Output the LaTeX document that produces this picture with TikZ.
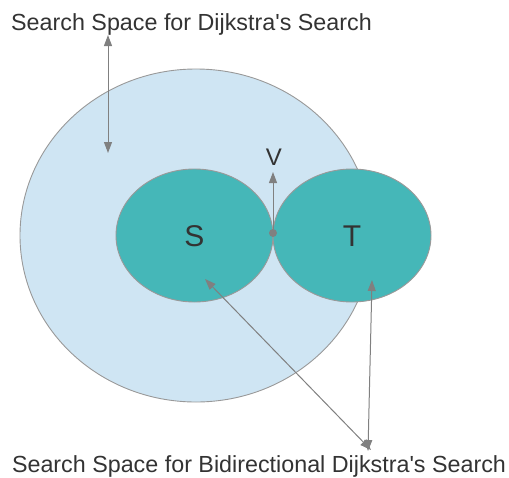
\documentclass[tikz,border=0pt]{standalone}
\usepackage{fontspec}
\setmainfont{Liberation Sans}[Ligatures=TeXOff]
\usetikzlibrary{shapes.geometric,arrows.meta}
\definecolor{lightfill}{HTML}{CFE5F3}
\definecolor{tealfill}{HTML}{45B7B8}
\definecolor{edgegray}{HTML}{999999}
\definecolor{arrgray}{HTML}{808080}
\definecolor{txt}{HTML}{333333}
\begin{document}
\begin{tikzpicture}[x=1pt,y=-1pt,
  region/.style={ellipse,draw=edgegray,line width=0.9pt,inner sep=0pt},
  lbl/.style={text=txt,inner sep=0pt,font=\fontsize{23.3}{23.3}\selectfont},
  big/.style={text=txt,inner sep=0pt,font=\fontsize{30}{30}\selectfont},
  conn/.style={draw=arrgray,line width=1pt,{Triangle[length=11pt,width=8pt]}-{Triangle[length=11pt,width=8pt]}},
  single/.style={draw=arrgray,line width=1pt,-{Triangle[length=11pt,width=8pt]}}]
\useasboundingbox (0,0) rectangle (509,477);
\node[region,fill=lightfill,minimum width=352pt,minimum height=333pt] (D) at (196,235.5) {};
\node[region,fill=tealfill,minimum width=157pt,minimum height=133pt] (S) at (194.5,235.5) {};
\node[region,fill=tealfill,minimum width=158pt,minimum height=133pt] (T) at (352,235.5) {};
\node[big] (Sl) at (194.5,236) {S};
\node[big] (Tl) at (352,236) {T};
\node[lbl,font=\fontsize{24}{24}\selectfont] (V) at (274,157) {V};
\node[circle,fill=arrgray,inner sep=0pt,minimum size=8pt] (m) at (273,233) {};
\coordinate (vt) at (273,172);
\draw[single] (m) -- (vt);
\node[lbl,anchor=base west] (top) at (11,30) {Search Space for Dijkstra's Search};
\node[lbl,anchor=base] (bot) at (259,472) {Search Space for Bidirectional Dijkstra's Search};
\coordinate (a1) at (108,35);
\coordinate (a2) at (108,153);
\draw[conn] (a1) -- (a2);
\coordinate (b1) at (205,279);
\coordinate (b2) at (371,450);
\coordinate (c1) at (372,280);
\coordinate (c2) at (368,451);
\draw[conn] (b1) -- (b2);
\draw[conn] (c1) -- (c2);
\end{tikzpicture}
\end{document}
